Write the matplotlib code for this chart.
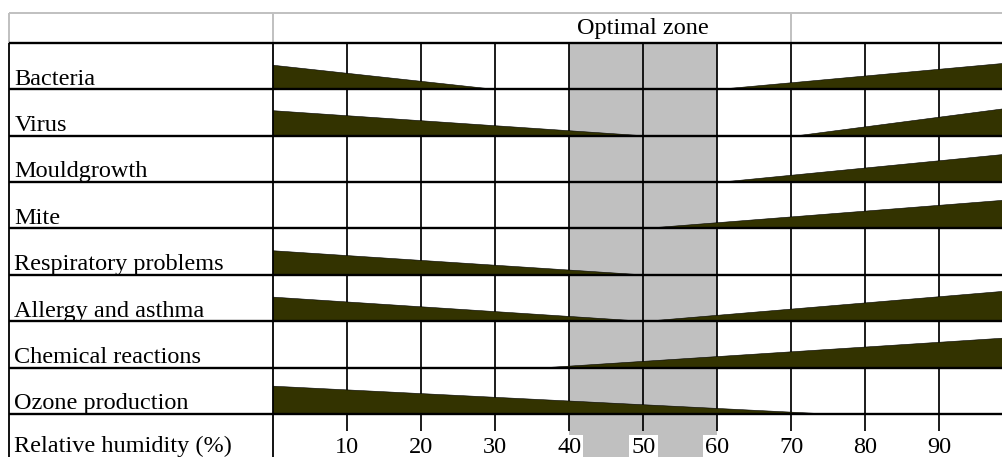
import matplotlib
matplotlib.use("Agg")
import matplotlib.pyplot as plt

# ---- data ----
factors = ["Bacteria", "Virus", "Mouldgrowth", "Mite", "Respiratory problems",
           "Allergy and asthma", "Chemical reactions", "Ozone production"]
# wedges falling from 0 % humidity to an end value (height at 0 %, in row units)
falling_end = [30, 50, None, None, 50, 50, None, 75]
falling_height = [0.52, 0.54, None, None, 0.52, 0.52, None, 0.60]
# wedges rising from a start value to 100 % humidity (height at 100 %)
rising_start = [60, 70, 60, 50, None, 50, 35, None]
rising_height = [0.60, 0.63, 0.62, 0.64, None, 0.67, 0.66, None]
tick_values = [10, 20, 30, 40, 50, 60, 70, 80, 90]
optimal_zone = (40, 60)
optimal_label = "Optimal zone"
axis_label = "Relative humidity (%)"

# ---- layout ----
W, H = 1003, 457
fig = plt.figure(figsize=(W / 100, H / 100), dpi=100)
ax = fig.add_axes([0, 0, 1, 1])
ax.set_axis_off()
xmin, xmax = -36.9, 98.6
n = len(factors)
ymin, ymax = -0.927, n + 0.927
ax.set_xlim(xmin, xmax)
ax.set_ylim(ymin, ymax)

label_left = -35.7
header_top = n + 0.647
FONT = "Liberation Serif"
FS = 17.5
olive = "#333300"
band_gray = "#c0c0c0"
light_gray = "#c0c0c0"

# optimal zone band
ax.fill_between(list(optimal_zone), ymin, n, color=band_gray, lw=0, zorder=1)

# vertical grid lines in rows
ax.vlines(tick_values, 0, n, colors="black", lw=1.25, zorder=2)
# tick stubs in axis row
ax.vlines(tick_values, -0.37, 0, colors="black", lw=1.25, zorder=2)
# column separators
ax.vlines([label_left, 0], ymin, n, colors="black", lw=1.3, zorder=4)

# header (gray)
ax.hlines(header_top, label_left, xmax, colors=light_gray, lw=1.4, zorder=2)
ax.vlines([label_left, 0, 70], n, header_top, colors=light_gray, lw=1.4, zorder=2)

# wedges
for i, name in enumerate(factors):
    base = n - 1 - i
    if falling_end[i] is not None:
        ax.fill([0, falling_end[i], 0], [base, base, base + falling_height[i]],
                facecolor=olive, edgecolor="black", lw=0.4, zorder=3)
    if rising_start[i] is not None:
        ax.fill([rising_start[i], 100, 100], [base, base, base + rising_height[i]],
                facecolor=olive, edgecolor="black", lw=0.4, zorder=3)
    ax.text(label_left + 0.75, base + 0.1, name, fontfamily=FONT, fontsize=FS,
            ha="left", va="baseline", zorder=5)

# horizontal row lines
ax.hlines(list(range(0, n + 1)), label_left, xmax, colors="black", lw=1.7, zorder=4)

# header text
ax.text(sum(optimal_zone) / 2, n + 0.32, optimal_label, fontfamily=FONT, fontsize=FS,
        ha="center", va="center", zorder=5)

# axis row
ax.text(label_left + 0.75, -0.82, axis_label, fontfamily=FONT, fontsize=FS,
        ha="left", va="baseline", zorder=5)
for v in tick_values:
    ax.text(v, -0.85, str(v), fontfamily=FONT, fontsize=FS, ha="center", va="baseline",
            zorder=5, bbox=dict(facecolor="white", edgecolor="none", pad=1.5))

fig.savefig("out.png", dpi=100)
